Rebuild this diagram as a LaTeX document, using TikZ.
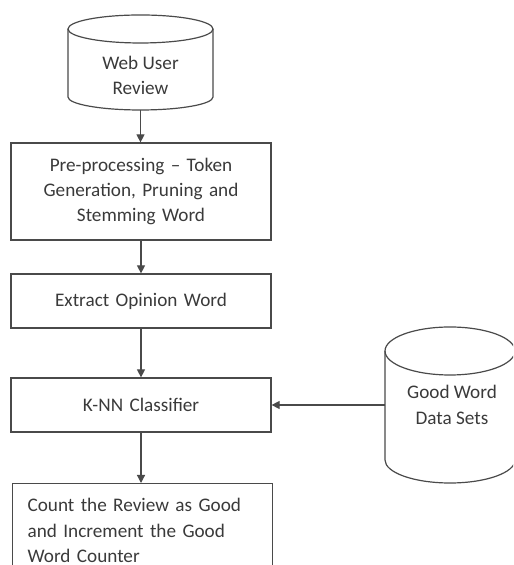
\documentclass[tikz,border=0pt]{standalone}
\usepackage{fontspec}
\setmainfont{Carlito}
\usetikzlibrary{arrows.meta}

\definecolor{linegray}{HTML}{4A4A4A}
\definecolor{textgray}{HTML}{3A3A3A}

\tikzset{
	procbox/.style={draw=linegray, line width=0.6pt, text=textgray, inner sep=0pt,
		minimum width=130pt, text width=126pt, align=center},
	dbtext/.style={text=textgray, align=center},
}

\begin{document}
\begin{tikzpicture}[x=0.5pt, y=0.5pt, >={Triangle[length=4pt,width=4pt]},
	font=\fontsize{9.6}{12.6}\selectfont, line width=0.6pt]
	\useasboundingbox (0,0) rectangle (513,565);
	\clip (0,0) rectangle (513,565);
	% web user review store
	\draw [linegray] (68,536) -- (68,468)
		arc [start angle=180, end angle=360, x radius=36.25pt, y radius=6.5pt] -- (213,536);
	\draw [linegray] (140.5,536) ellipse [x radius=36.25pt, y radius=7pt];
	\node [dbtext] (web) at (140.5,489.5) {Web User\\Review};
	\coordinate (webbase) at (140.5,455);
	% processing steps
	\node [procbox, minimum height=48.5pt] (prep) at (141,373.5)
		{Pre-processing -- Token\\Generation, Pruning and\\Stemming Word};
	\node [procbox, minimum height=27pt] (extract) at (141,264) {Extract Opinion Word};
	\node [procbox, minimum height=27pt] (knn) at (141,160) {K-NN Classifier};
	\node [procbox, align=left, text width=115pt, inner xsep=7.5pt, inner ysep=7.5pt,
		anchor=north west] (count) at (12,82)
		{Count the Review as Good\\and Increment the Good\\Word Counter};
	% good word data sets
	\draw [linegray] (385,214) -- (385,105)
		arc [start angle=180, end angle=360, x radius=32.5pt, y radius=11.5pt] -- (515,214);
	\draw [linegray] (450,214) ellipse [x radius=32.5pt, y radius=12pt];
	\node [dbtext] (good) at (452,160) {Good Word\\Data Sets};
	\coordinate (goodside) at (385,160);
	% arrows
	\draw [->, linegray] (webbase) -- (webbase |- prep.north);
	\draw [->, linegray] (prep) -- (extract);
	\draw [->, linegray] (extract) -- (knn);
	\draw [->, linegray] (knn) -- (count.north -| knn);
	\draw [->, linegray] (goodside) -- (knn);
\end{tikzpicture}
\end{document}
